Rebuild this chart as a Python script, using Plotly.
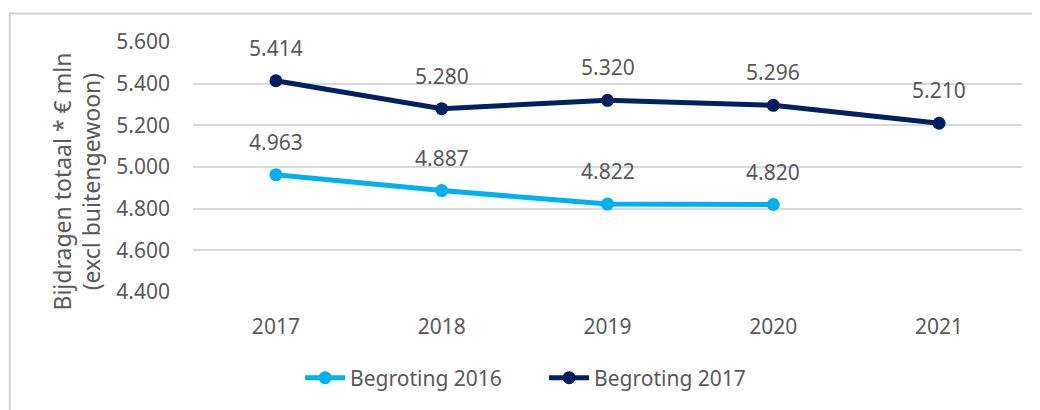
import plotly.graph_objects as go

years = ["2017", "2018", "2019", "2020", "2021"]
begroting_2016 = [4963, 4887, 4822, 4820, None]
begroting_2017 = [5414, 5280, 5320, 5296, 5210]
series_names = ["Begroting 2016", "Begroting 2017"]
y_ticks = [4400, 4600, 4800, 5000, 5200, 5400, 5600]

FONT = "Noto Sans"
TXT = "#595959"
colors = ["#00B0F0", "#002060"]


def nl(v):
    return f"{v:,.0f}".replace(",", ".")


fig = go.Figure()
for name, vals, col in zip(series_names, [begroting_2016, begroting_2017], colors):
    xs = [y for y, v in zip(years, vals) if v is not None]
    ys = [v for v in vals if v is not None]
    fig.add_trace(go.Scatter(
        x=xs, y=ys, name=name, mode="lines+markers",
        line=dict(color=col, width=5),
        marker=dict(color=col, size=13),
    ))
    for i, v in enumerate(vals):
        if v is None:
            continue
        fig.add_annotation(x=i, y=v, xref="x", yref="y", text=nl(v),
                           showarrow=False, yshift=33,
                           font=dict(family=FONT, size=21, color=TXT))

fig.add_annotation(xref="paper", yref="paper", x=-0.1405, y=0.44,
                   xanchor="center", yanchor="middle",
                   text="Bijdragen totaal * € mln<br>(excl buitengewoon)",
                   textangle=-90, showarrow=False,
                   font=dict(family=FONT, size=23, color=TXT))

# chart border (left and top visible)
fig.add_shape(type="rect", xref="paper", yref="paper",
              x0=-0.2210, x1=1.06, y0=-0.6, y1=1.114,
              line=dict(color="#D0D0D0", width=2), fillcolor="rgba(0,0,0,0)",
              layer="above")

fig.update_layout(
    width=1040, height=410,
    margin=dict(l=185, r=26, t=34, b=126),
    paper_bgcolor="white", plot_bgcolor="white",
    font=dict(family=FONT, size=21, color=TXT),
    showlegend=True,
    legend=dict(orientation="h", x=0.4235, xanchor="center", y=-0.344, yanchor="middle",
                font=dict(family=FONT, size=21, color=TXT), itemwidth=40,
                entrywidth=189),
    xaxis=dict(type="category", categoryorder="array", categoryarray=years,
               range=[-0.5, 4.5], showgrid=False, showline=False, zeroline=False,
               ticks="", ticklabelstandoff=20),
    yaxis=dict(range=[4400, 5600], tickvals=y_ticks, ticktext=[nl(v) for v in y_ticks],
               showgrid=True, gridcolor="#D9D9D9", gridwidth=1.5, zeroline=False,
               showline=False, ticks="", ticklabelstandoff=22),
)

fig.write_html("out.html")
